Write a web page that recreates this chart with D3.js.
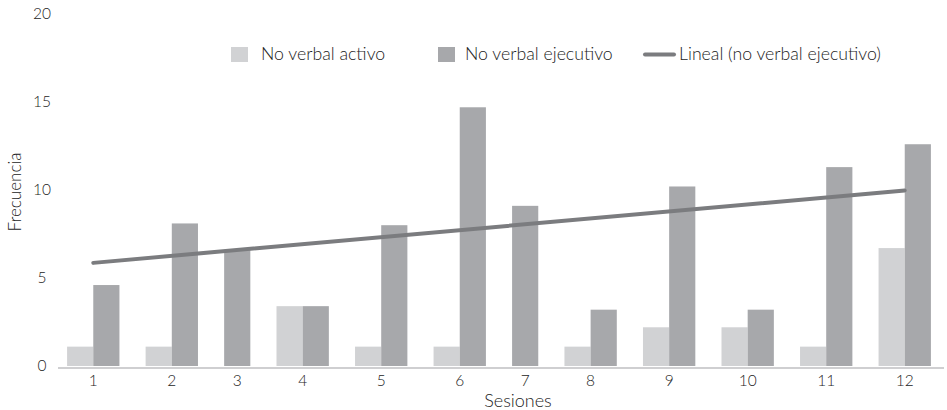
<!DOCTYPE html>
<html>
<head>
<meta charset="utf-8">
<script src="https://cdn.jsdelivr.net/npm/d3@7"></script>
<style>
  html, body { margin: 0; padding: 0; background: #fff; }
  svg { display: block; }
  text { font-family: Lato, "Open Sans", sans-serif; font-weight: 300; fill: #1c1c1c; }
</style>
</head>
<body>
<svg id="chart" width="947" height="410"></svg>
<script>
// Sessions and frequencies per behaviour type
const sesiones = ["1", "2", "3", "4", "5", "6", "7", "8", "9", "10", "11", "12"];
const noVerbalActivo = [1.1, 1.1, 0, 3.4, 1.1, 1.1, 0, 1.1, 2.2, 2.2, 1.1, 6.7];
const noVerbalEjecutivo = [4.6, 8.1, 6.6, 3.4, 8.0, 14.7, 9.1, 3.2, 10.2, 3.2, 11.3, 12.6];
const yTicks = [0, 5, 10, 15, 20];
const seriesNames = ["No verbal activo", "No verbal ejecutivo"];
const trendName = "Lineal (no verbal ejecutivo)";

const colors = { activo: "#d1d2d4", ejecutivo: "#a7a8ab", trend: "#7b7c7f", axis: "#cfcfd1" };

const svg = d3.select("#chart");

const y = d3.scaleLinear().domain([0, 20]).range([366, 14]);

// Each session keeps a slot only for series with a non-zero count,
// and sessions are separated by a gap one bar wide.
const groups = sesiones.map((s, i) => {
  const bars = [];
  if (noVerbalActivo[i] > 0) bars.push({ key: "activo", value: noVerbalActivo[i] });
  if (noVerbalEjecutivo[i] > 0) bars.push({ key: "ejecutivo", value: noVerbalEjecutivo[i] });
  return { label: s, index: i + 1, bars };
});
let cursor = 0.5;
groups.forEach(g => {
  g.start = cursor;
  g.center = cursor + g.bars.length / 2;
  cursor += g.bars.length + 1;
});
const totalUnits = cursor - 0.5;
const x = d3.scaleLinear().domain([0, totalUnits]).range([54, 944]);
const unit = x(1) - x(0);

// bars
const gSel = svg.append("g").selectAll("g.sesion").data(groups).join("g").attr("class", "sesion");
gSel.selectAll("rect").data(g => g.bars.map((b, k) => ({ ...b, u: g.start + k })))
  .join("rect")
  .attr("x", d => x(d.u))
  .attr("width", unit)
  .attr("y", d => y(d.value))
  .attr("height", d => y(0) - y(d.value))
  .attr("fill", d => colors[d.key]);

// x axis baseline
svg.append("line")
  .attr("x1", x(0) + 4).attr("x2", x(totalUnits))
  .attr("y1", y(0) + 2).attr("y2", y(0) + 2)
  .attr("stroke", colors.axis).attr("stroke-width", 2);

// session labels
svg.append("g").selectAll("text").data(groups).join("text")
  .attr("x", d => x(d.center))
  .attr("y", 386)
  .attr("text-anchor", "middle")
  .attr("font-size", 15.5)
  .text(d => d.label);

// y tick labels
svg.append("g").selectAll("text").data(yTicks).join("text")
  .attr("x", 42)
  .attr("y", d => y(d))
  .attr("dy", "0.35em")
  .attr("text-anchor", "middle")
  .attr("font-size", 15.5)
  .text(d => d);

// linear trend of "no verbal ejecutivo"
const xs = groups.map(g => g.index);
const mx = d3.mean(xs), my = d3.mean(noVerbalEjecutivo);
const slope = d3.sum(xs, (v, i) => (v - mx) * (noVerbalEjecutivo[i] - my)) / d3.sum(xs, v => (v - mx) ** 2);
const intercept = my - slope * mx;
const first = groups[0], last = groups[groups.length - 1];
svg.append("line")
  .attr("x1", x(first.center)).attr("y1", y(intercept + slope * first.index))
  .attr("x2", x(last.center)).attr("y2", y(intercept + slope * last.index))
  .attr("stroke", colors.trend).attr("stroke-width", 4).attr("stroke-linecap", "round");

// axis titles
svg.append("text")
  .attr("transform", "translate(21,192) rotate(-90)")
  .attr("text-anchor", "middle")
  .attr("font-size", 17)
  .text("Frecuencia");
svg.append("text")
  .attr("x", 518).attr("y", 407)
  .attr("text-anchor", "middle")
  .attr("font-size", 18)
  .text("Sesiones");

// legend
const legend = svg.append("g");
const legendItems = [
  { name: seriesNames[0], type: "rect", color: colors.activo, sx: 231, tx: 261 },
  { name: seriesNames[1], type: "rect", color: colors.ejecutivo, sx: 438, tx: 465 },
  { name: trendName, type: "line", color: colors.trend, sx: 645, tx: 679 }
];
legendItems.forEach(it => {
  if (it.type === "rect") {
    legend.append("rect").attr("x", it.sx).attr("y", 47).attr("width", 17).attr("height", 15).attr("fill", it.color);
  } else {
    legend.append("line").attr("x1", it.sx).attr("x2", it.sx + 29).attr("y1", 54.5).attr("y2", 54.5)
      .attr("stroke", it.color).attr("stroke-width", 4).attr("stroke-linecap", "round");
  }
  legend.append("text").attr("x", it.tx).attr("y", 60).attr("font-size", 17.7).text(it.name);
});
</script>
</body>
</html>
